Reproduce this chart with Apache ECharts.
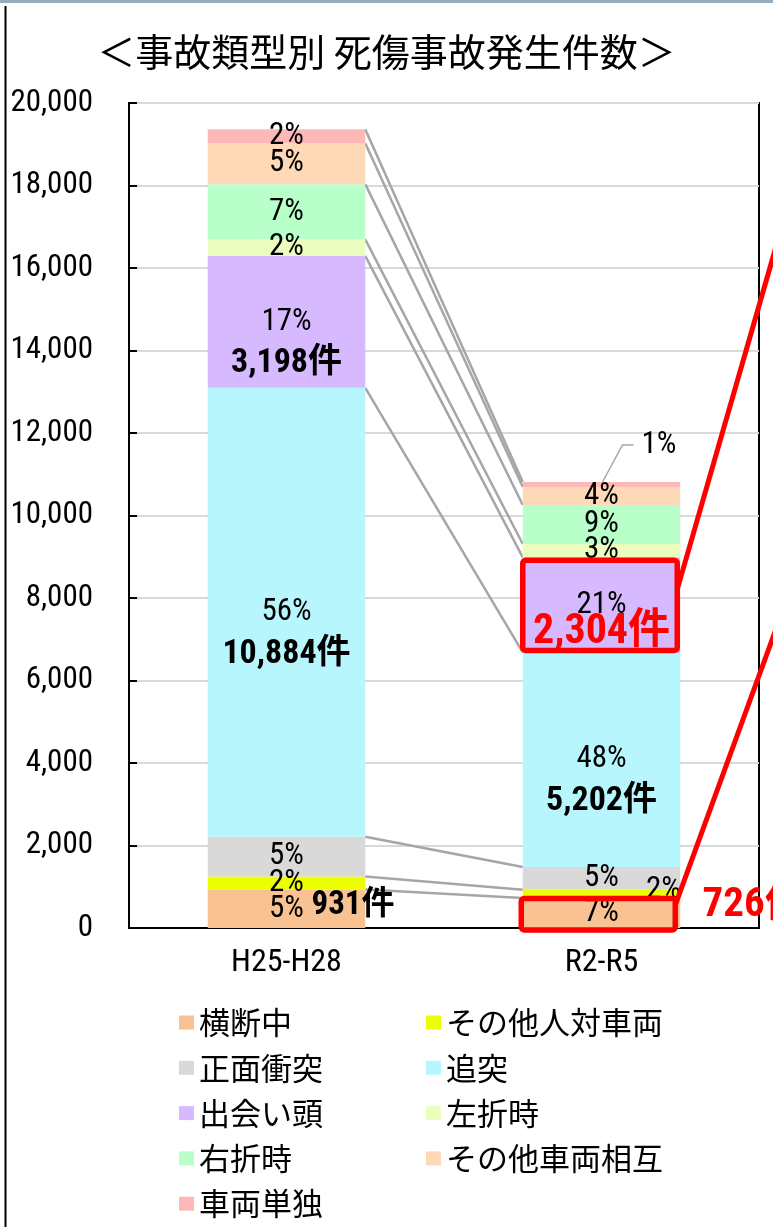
<!DOCTYPE html>
<html><head><meta charset="utf-8">
<script src="https://cdn.jsdelivr.net/npm/echarts@6/dist/echarts.min.js"></script>
<style>html,body{margin:0;padding:0;background:#fff}#c{width:773px;height:1227px}</style>
</head><body><div id="c"></div><script>
// ---- data ----
const categories = ['H25-H28', 'R2-R5'];
const seriesNames = ['横断中', 'その他人対車両', '正面衝突', '追突', '出会い頭', '左折時', '右折時', 'その他車両相互', '車両単独'];
const v_oudan = [931, 726];
const v_sonotaJin = [320, 200];
const v_shoumen = [960, 553];
const v_tsuitotsu = [10884, 5202];
const v_deai = [3198, 2304];
const v_sasetsu = [400, 324];
const v_usetsu = [1340, 946];
const v_sonotaSharyo = [990, 436];
const v_tandoku = [340, 121];
const yMin = 0, yMax = 20000, yInterval = 2000;
const titleText = '＜事故類型別 死傷事故発生件数＞';

// ---- style ----
const colors = ['#F8C293', '#EAFF00', '#D9D9D9', '#B8F6FD', '#D7B9FF', '#EBFEC0', '#B8FFCA', '#FDD9B7', '#FFB8B8'];
const NARROW = "'Roboto Condensed', 'Noto Sans CJK JP', sans-serif";
const JP = "'Noto Sans CJK JP', sans-serif";
const PCT_SIZE = 31;

const allValues = [v_oudan, v_sonotaJin, v_shoumen, v_tsuitotsu, v_deai, v_sasetsu, v_usetsu, v_sonotaSharyo, v_tandoku];
const totals = categories.map((_, c) => allValues.reduce((s, a) => s + a[c], 0));
const cum = categories.map((_, c) => { const r = [0]; allValues.forEach(a => r.push(r[r.length - 1] + a[c])); return r; });
const pct = (i, c) => Math.round(allValues[i][c] / totals[c] * 100) + '%';
const fmt = v => v.toLocaleString('en-US');

const chart = echarts.init(document.getElementById('c'), null, { renderer: 'canvas' });

const barSeries = seriesNames.map((name, i) => ({
  name, type: 'bar', stack: 'total', barWidth: '50%', z: 2,
  itemStyle: { color: colors[i] },
  label: {
    show: true, position: 'inside', color: '#000', fontFamily: NARROW, fontSize: PCT_SIZE,
    formatter: p => {
      const c = p.dataIndex, pc = pct(i, c);
      if (i === 3 || i === 4) {
        const cnt = fmt(allValues[i][c]) + '件';
        if (i === 4 && c === 1) return '{p2|' + pc + '}\n{r|' + cnt + '}';
        return '{p|' + pc + '}\n{b|' + cnt + '}';
      }
      return pc;
    },
    rich: {
      p: { fontFamily: NARROW, fontSize: PCT_SIZE, lineHeight: 42, color: '#000' },
      b: { fontFamily: NARROW, fontSize: 34, fontWeight: 'bold', lineHeight: 42, color: '#000' },
      p2: { fontFamily: NARROW, fontSize: PCT_SIZE, lineHeight: 28, color: '#000' },
      r: { fontFamily: NARROW, fontSize: 42, fontWeight: 'bold', lineHeight: 28, color: '#FF0000' }
    }
  },
  data: allValues[i].map((v, c) => {
    const item = { value: v };
    if (i === 3 || i === 4) item.label = { offset: [0, (i === 4 && c === 1) ? 14 : 21] };
    if (i === 1 && c === 1) item.label = { offset: [62, -4] };
    if (i === 8 && c === 1) item.label = { show: false };
    return item;
  })
}));

const connectorSeries = {
  type: 'custom', name: 'connectors', z: 1, silent: true, data: [[0, 0]],
  renderItem: (params, api) => {
    const bw = api.size([1, 0])[0] * 0.5;
    const children = [];
    for (let k = 1; k <= seriesNames.length; k++) {
      const a = api.coord([0, cum[0][k]]), b = api.coord([1, cum[1][k]]);
      children.push({ type: 'line', shape: { x1: a[0] + bw / 2, y1: a[1], x2: b[0] - bw / 2, y2: b[1] },
        style: { stroke: '#A6A6A6', lineWidth: 2.5 } });
    }
    return { type: 'group', children };
  }
};

const annotSeries = {
  type: 'custom', name: 'annot', z: 10, silent: true, data: [[0, 0]],
  renderItem: (params, api) => {
    const bw = api.size([1, 0])[0] * 0.5;
    const ch = [];
    // leader for smallest segment of 2nd bar
    const top = api.coord([1, totals[1]]);
    ch.push({ type: 'polyline', shape: { points: [[top[0] + 1, top[1]], [top[0] + 21, top[1] - 37], [top[0] + 32, top[1] - 37]] },
      style: { stroke: '#A6A6A6', lineWidth: 1.5, fill: null } });
    ch.push({ type: 'text', x: top[0] + 40, y: top[1] - 37,
      style: { text: pct(8, 1), fill: '#000', font: PCT_SIZE + 'px ' + NARROW, align: 'left', verticalAlign: 'middle' } });
    // counts for 横断中
    const m0 = api.coord([0, v_oudan[0] / 2]);
    ch.push({ type: 'text', x: m0[0] + 25, y: m0[1] - 3,
      style: { text: fmt(v_oudan[0]) + '件', fill: '#000', font: 'bold 33px ' + NARROW, align: 'left', verticalAlign: 'middle' } });
    const m1 = api.coord([1, v_oudan[1] / 2]);
    ch.push({ type: 'text', x: m1[0] + 101, y: m1[1] - 7,
      style: { text: fmt(v_oudan[1]) + '件', fill: '#FF0000', font: 'bold 41px ' + NARROW, align: 'left', verticalAlign: 'middle' } });
    // red boxes
    const segRect = (c, k) => {
      const b = api.coord([c, cum[c][k]]), t = api.coord([c, cum[c][k + 1]]);
      return { l: b[0] - bw / 2, r: b[0] + bw / 2, t: t[1], b: b[1] };
    };
    const s1 = segRect(1, 4);
    const b1 = { x: s1.l, y: s1.t + 3, width: (s1.r - 3) - s1.l, height: (s1.b - 2) - (s1.t + 3) };
    ch.push({ type: 'rect', shape: Object.assign({ r: 3 }, b1), style: { stroke: '#FF0000', lineWidth: 5.5, fill: null } });
    const s0 = segRect(1, 0);
    const b2 = { x: s0.l - 1.5, y: s0.t + 0.5, width: (s0.r - 5) - (s0.l - 1.5), height: (s0.b + 2) - (s0.t + 0.5) };
    ch.push({ type: 'rect', shape: Object.assign({ r: 3 }, b2), style: { stroke: '#FF0000', lineWidth: 5.5, fill: null } });
    // red pointer lines
    const x1 = b1.x + b1.width, y1 = b1.y + 29;
    ch.push({ type: 'line', shape: { x1, y1, x2: x1 + 130, y2: y1 - 130 * 3.47 }, style: { stroke: '#FF0000', lineWidth: 5 } });
    const x2 = b2.x + b2.width, y2 = b2.y + 6.5;
    ch.push({ type: 'line', shape: { x1: x2, y1: y2, x2: x2 + 130, y2: y2 - 130 * 2.74 }, style: { stroke: '#FF0000', lineWidth: 5 } });
    return { type: 'group', children: ch };
  }
};

const legendBase = {
  orient: 'vertical', selectedMode: false, icon: 'rect', itemWidth: 15, itemHeight: 14, itemGap: 14.3,
  padding: 0, height: 240,
  textStyle: { fontFamily: JP, fontSize: 31, color: '#000', lineHeight: 31 }
};

chart.setOption({
  animation: false,
  backgroundColor: '#fff',
  title: { text: titleText, left: 'center', top: 28, textStyle: { fontFamily: JP, fontSize: 38, fontWeight: 'normal', color: '#000' } },
  grid: { left: 129, right: 14, top: 103, bottom: 299, show: true, borderColor: '#000', borderWidth: 2, containLabel: false },
  xAxis: {
    type: 'category', data: categories,
    axisLine: { lineStyle: { color: '#000', width: 2 } },
    axisTick: { show: false },
    axisLabel: { fontFamily: NARROW, fontSize: 32, color: '#000', margin: 19 }
  },
  yAxis: {
    type: 'value', min: yMin, max: yMax, interval: yInterval,
    axisLine: { show: true, lineStyle: { color: '#000', width: 2 } },
    axisTick: { show: true, inside: true, length: 8, lineStyle: { color: '#000', width: 2 } },
    splitLine: { lineStyle: { color: '#D9D9D9', width: 2 } },
    axisLabel: { fontFamily: NARROW, fontSize: 31, color: '#000', margin: 36, formatter: v => fmt(v) }
  },
  legend: [
    Object.assign({}, legendBase, { left: 179, top: 1007, data: seriesNames.filter((_, i) => i % 2 === 0) }),
    Object.assign({}, legendBase, { left: 426, top: 1007, data: seriesNames.filter((_, i) => i % 2 === 1) })
  ],
  graphic: [
    { type: 'rect', shape: { x: 0, y: 0, width: 773, height: 3 }, style: { fill: '#95AEBB' }, z: 100 },
    { type: 'line', shape: { x1: 5.5, y1: 6, x2: 5.5, y2: 1227 }, style: { stroke: '#000', lineWidth: 2 }, z: 100 }
  ],
  series: [connectorSeries].concat(barSeries).concat([annotSeries])
});
</script></body></html>
